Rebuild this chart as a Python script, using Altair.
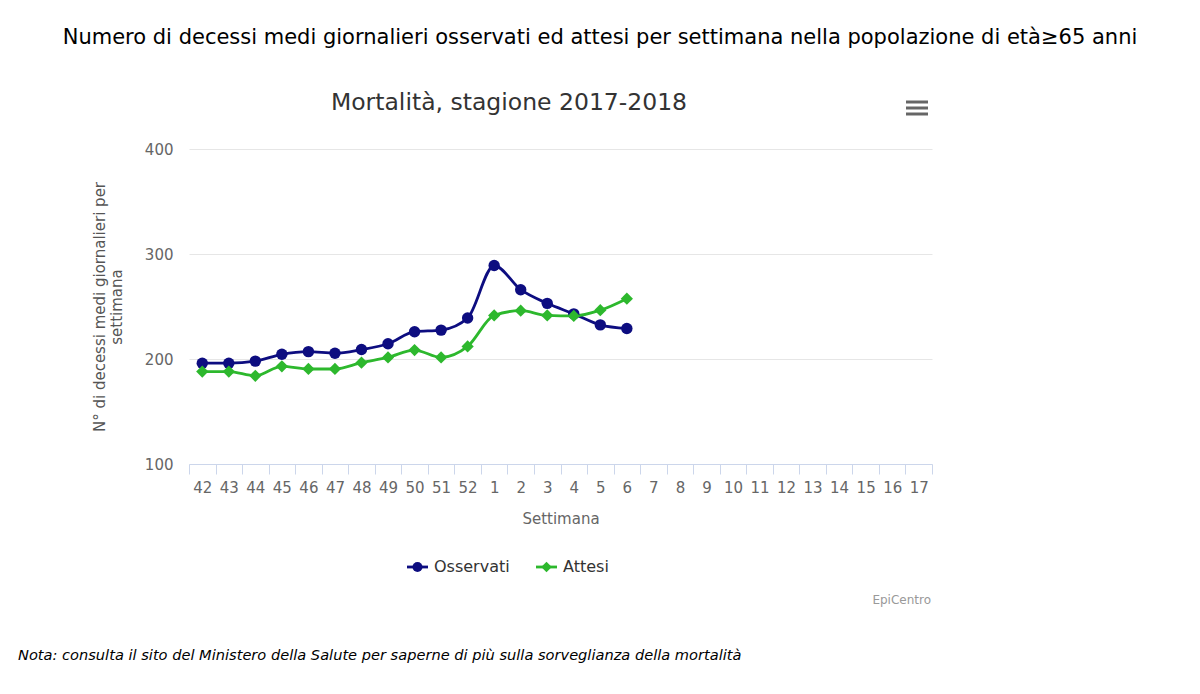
import altair as alt
import pandas as pd

weeks = ["42", "43", "44", "45", "46", "47", "48", "49", "50", "51", "52",
         "1", "2", "3", "4", "5", "6", "7", "8", "9", "10", "11", "12", "13",
         "14", "15", "16", "17"]
obs_weeks = ["42", "43", "44", "45", "46", "47", "48", "49", "50", "51", "52",
             "1", "2", "3", "4", "5", "6"]
osservati = [196, 196, 198, 204.5, 207, 205.5, 209, 214.5, 226, 227.5, 239,
             289, 266, 253, 243, 232.5, 229]
attesi = [188, 188, 184, 193, 190.5, 190.5, 196.5, 201.5, 208.5, 201.5, 212,
          241.5, 246, 241.5, 241, 246.5, 257.5]
series_names = ["Osservati", "Attesi"]
series_colors = ["#0d0d80", "#2db82d"]
series_shapes = ["circle", "diamond"]

rows = []
for w, o, a in zip(obs_weeks, osservati, attesi):
    rows.append({"week": w, "value": o, "series": "Osservati"})
    rows.append({"week": w, "value": a, "series": "Attesi"})
df = pd.DataFrame(rows)

W, H = 743, 315
FONT = "DejaVu Sans"

x_enc = alt.X("week:O", scale=alt.Scale(domain=weeks),
              axis=alt.Axis(title="Settimana", labelAngle=0, tickBand="extent",
                            domainColor="#ccd6eb", tickColor="#ccd6eb", tickSize=10,
                            labelColor="#666666", labelFontSize=15, labelFont=FONT,
                            labelPadding=6, titleFont=FONT, titleFontSize=15,
                            titleColor="#666666", titleFontWeight="normal",
                            titlePadding=16, grid=False))
y_enc = alt.Y("value:Q", scale=alt.Scale(domain=[100, 400]),
              axis=alt.Axis(values=[100, 200, 300, 400], ticks=False, domain=False,
                            gridColor="#e6e6e6", labelColor="#666666", labelFontSize=15,
                            labelFont=FONT, labelPadding=16,
                            title=["N° di decessi medi giornalieri per", "settimana"],
                            titleFont=FONT, titleFontSize=15, titleColor="#555555",
                            titleFontWeight="normal", titlePadding=20))
color_enc = alt.Color("series:N", scale=alt.Scale(domain=series_names, range=series_colors),
                      legend=None)

lines = alt.Chart(df).mark_line(interpolate="monotone", strokeWidth=2.8).encode(
    x=x_enc, y=y_enc, color=color_enc, detail="series:N")
points = alt.Chart(df).mark_point(filled=True, opacity=1).encode(
    x=x_enc, y=y_enc, color=color_enc,
    shape=alt.Shape("series:N", scale=alt.Scale(domain=series_names, range=series_shapes),
                    legend=None),
    size=alt.Size("series:N", scale=alt.Scale(domain=series_names, range=[130, 150]),
                  legend=None))

ox, oy = 189, 149  # plot origin in page


def txt(s, px, py, size, color="#333333", align="center", style="normal", font=FONT):
    return alt.Chart(pd.DataFrame({"t": [s]})).mark_text(
        fontSize=size, color=color, align=align, baseline="middle", fontStyle=style,
        font=font).encode(text="t:N", x=alt.value(px - ox), y=alt.value(py - oy))


def hrule(x1, x2, py, color, width):
    return alt.Chart(pd.DataFrame({"a": [0]})).mark_rule(color=color, strokeWidth=width).encode(
        x=alt.value(x1 - ox), x2=alt.value(x2 - ox), y=alt.value(py - oy))


def sym(px, py, shape, color, size):
    return alt.Chart(pd.DataFrame({"a": [0]})).mark_point(
        shape=shape, filled=True, opacity=1, color=color, size=size).encode(
        x=alt.value(px - ox), y=alt.value(py - oy))


layers = [lines, points,
          txt("Numero di decessi medi giornalieri osservati ed attesi per settimana nella popolazione di età≥65 anni",
              600, 38, 21, color="#000000"),
          txt("Mortalità, stagione 2017-2018", 509, 103, 23.5, color="#333333"),
          txt("Nota: consulta il sito del Ministero della Salute per saperne di più sulla sorveglianza della mortalità",
              18, 656, 14.6, color="#000000", align="left", style="italic"),
          txt("EpiCentro", 931, 600, 12, color="#999999", align="right"),
          hrule(407, 428, 567, series_colors[0], 2.8),
          sym(417.5, 567, "circle", series_colors[0], 100),
          txt("Osservati", 434, 567, 16, align="left"),
          hrule(536, 557, 567, series_colors[1], 2.8),
          sym(546.5, 567, "diamond", series_colors[1], 110),
          txt("Attesi", 563, 567, 16, align="left"),
          hrule(906, 928, 102, "#666666", 3),
          hrule(906, 928, 108, "#666666", 3),
          hrule(906, 928, 114, "#666666", 3),
          ]

chart = alt.layer(*layers).properties(
    width=W, height=H,
    autosize=alt.AutoSizeParams(type="none"),
    padding={"left": ox, "top": oy, "right": 1200 - ox - W, "bottom": 694 - oy - H},
    background="white",
).configure_view(stroke=None)

chart.save("out.html", embed_options={"renderer": "svg", "actions": False})
